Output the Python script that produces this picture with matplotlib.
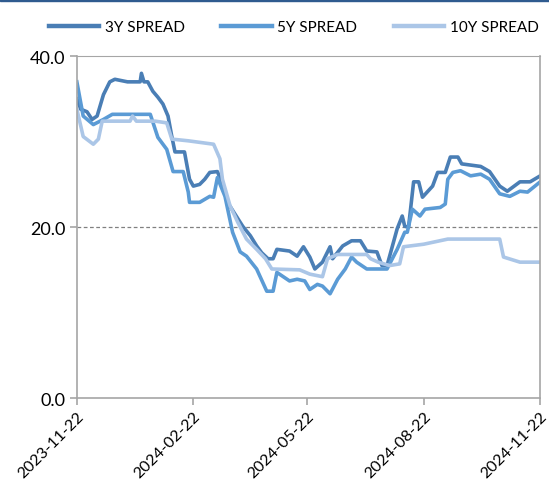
import matplotlib
matplotlib.use("Agg")
import matplotlib.pyplot as plt
import matplotlib.dates as mdates
import numpy as np
import pandas as pd

start = pd.Timestamp("2023-11-22")

# days after start / spread values
days_3y = [0, 3, 8, 12, 16, 21, 26, 30, 40, 50, 51, 53, 56, 60, 64, 68, 72, 75, 77.5, 85, 89, 92, 97, 101,
           105, 111, 113, 119, 125, 131, 137, 142, 146, 151, 155, 158, 168, 174, 179, 184, 188, 194, 200,
           202, 210, 217, 224, 229, 237, 241, 245, 253, 257, 259, 262, 266, 270, 273, 281, 285, 291, 295,
           301, 304, 319, 326, 334, 340, 350, 358, 366]
spread_3y = [35.0, 33.8, 33.5, 32.6, 33.0, 35.5, 37.0, 37.3, 37.0, 37.0, 38.0, 37.0, 37.0, 35.9, 35.2, 34.4,
             33.0, 30.6, 28.8, 28.8, 25.6, 24.8, 25.0, 25.6, 26.4, 26.5, 25.8, 22.9, 21.5, 20.1, 19.0, 17.8,
             17.0, 16.3, 16.3, 17.4, 17.2, 16.6, 17.7, 16.5, 15.1, 15.9, 17.7, 16.3, 17.8, 18.4, 18.4, 17.2,
             17.1, 15.5, 15.5, 19.8, 21.3, 20.1, 20.0, 25.3, 25.3, 23.5, 24.8, 26.4, 26.4, 28.2, 28.2, 27.4,
             27.1, 26.5, 24.8, 24.2, 25.3, 25.3, 26.0]

days_5y = [0, 5, 13, 21, 28, 58, 64, 71, 76, 84, 88, 89, 97, 105, 108, 111, 117, 123, 129, 134, 142, 150,
           155, 158, 168, 174, 180, 184, 190, 194, 200, 206, 212, 217, 221, 229, 245, 253, 259, 261, 265,
           271, 275, 287, 291, 293, 297, 303, 311, 319, 326, 334, 342, 350, 356, 366]
spread_5y = [37.0, 33.0, 32.0, 32.6, 33.2, 33.2, 30.5, 29.1, 26.5, 26.5, 24.1, 22.9, 22.9, 23.6, 23.5, 25.8,
             23.6, 19.4, 17.1, 16.6, 15.1, 12.5, 12.5, 14.7, 13.7, 13.9, 13.7, 12.7, 13.3, 13.1, 12.2, 13.9,
             15.1, 16.5, 15.9, 15.1, 15.1, 17.4, 19.4, 19.4, 22.1, 21.3, 22.1, 22.3, 22.7, 25.6, 26.4, 26.6,
             26.0, 26.2, 25.6, 23.9, 23.6, 24.2, 24.1, 25.3]

days_10y = [0, 5, 13, 17, 20, 42, 44, 47, 62, 71, 75, 88, 108, 113, 115, 121, 127, 134, 142, 149, 154, 176,
            184, 194, 198, 206, 229, 232, 238, 247, 255, 258, 274, 293, 334, 337, 350, 366]
spread_10y = [33.8, 30.6, 29.7, 30.3, 32.4, 32.4, 33.0, 32.4, 32.4, 32.2, 30.3, 30.1, 29.7, 28.0, 25.6, 22.5,
              20.6, 18.6, 17.4, 16.3, 15.1, 15.0, 14.5, 14.2, 16.3, 16.8, 16.8, 16.3, 15.9, 15.5, 15.7, 17.7,
              18.0, 18.6, 18.6, 16.5, 15.9, 15.9]

tick_labels = ["2023-11-22", "2024-02-22", "2024-05-22", "2024-08-22", "2024-11-22"]

def to_dates(days):
    return [start + pd.Timedelta(days=d) for d in days]

plt.rcParams['font.family'] = ['Lato', 'DejaVu Sans']

fig = plt.figure(figsize=(5.49, 4.89), dpi=100)
ax = fig.add_axes([0.140, 0.184, 0.844, 0.699])

# dark band along the top edge
fig.add_artist(plt.Rectangle((0, 0.995), 1, 0.005, transform=fig.transFigure, color="#2f5b8f"))

ax.plot(to_dates(days_3y), spread_3y, color="#4a7eb5", lw=2.6, label="3Y SPREAD")
ax.plot(to_dates(days_5y), spread_5y, color="#5b9bd5", lw=2.6, label="5Y SPREAD")
ax.plot(to_dates(days_10y), spread_10y, color="#abc6e7", lw=2.6, label="10Y SPREAD")

ax.axhline(20, color="#808080", lw=0.9, ls=(0, (3, 2)), zorder=0)

ax.set_ylim(0, 40)
ax.set_yticks([0, 20, 40])
ax.set_yticklabels(["0.0", "20.0", "40.0"], fontsize=13)

ticks = pd.to_datetime(tick_labels)
ax.set_xlim(ticks[0], ticks[-1])
ax.set_xticks(ticks)
ax.set_xticklabels(tick_labels, rotation=45, ha="right", rotation_mode="anchor", fontsize=11.5)

for s in ax.spines.values():
    s.set_color("#a6a6a6")
    s.set_linewidth(1.2)
ax.spines["top"].set_linewidth(0.8)
ax.tick_params(axis="both", direction="out", length=5, color="#a6a6a6", width=1.2, pad=3)

leg = fig.legend(loc="upper center", bbox_to_anchor=(0.535, 0.985), ncol=3, frameon=False,
                 fontsize=11, handlelength=3.3, columnspacing=2.4, handletextpad=0.35)
for h in leg.get_lines():
    h.set_linewidth(3.2)

fig.savefig("out.png", dpi=100)
